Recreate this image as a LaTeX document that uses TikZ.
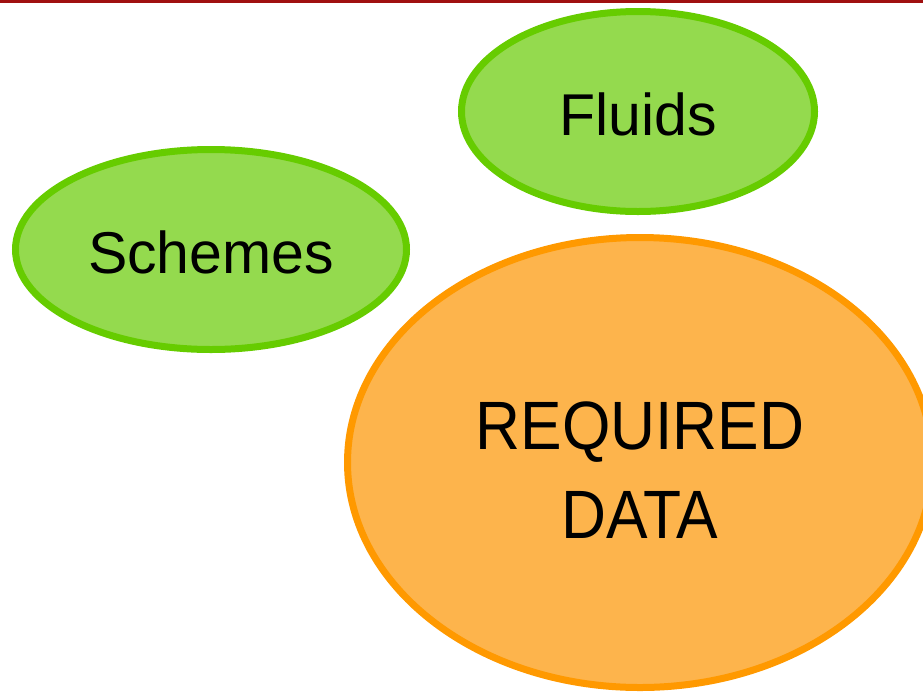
\documentclass[tikz,border=0pt]{standalone}
\usepackage{fontspec}
\setmainfont{Liberation Sans}
\newfontfamily\narrowsf[FakeStretch=0.91]{Liberation Sans}
\usetikzlibrary{shapes.geometric}
\definecolor{leafgreen}{RGB}{148,218,78}
\definecolor{leafedge}{RGB}{102,204,0}
\definecolor{datafill}{RGB}{253,180,76}
\definecolor{dataedge}{RGB}{255,153,0}
\definecolor{topbar}{RGB}{160,16,16}

\begin{document}
\begin{tikzpicture}
      [x=1pt, y=-1pt,
      greenoval/.style={ellipse, draw=leafedge, fill=leafgreen, line width=7pt,
        inner sep=0pt, text height=48pt, text depth=0pt,
        font=\fontsize{59}{65}\selectfont},
      orangeoval/.style={ellipse, draw=dataedge, fill=datafill, line width=7pt,
        inner sep=0pt, align=center, text height=151pt, text depth=0pt,
        font=\narrowsf\fontsize{68.4}{89}\selectfont}]
      \useasboundingbox (0,0) rectangle (923,697);
      \fill[topbar] (0,0) rectangle (923,3);
      \node[greenoval, minimum width=353pt, minimum height=200pt] (fluids) at (638,111.5) {Fluids};
      \node[greenoval, minimum width=391pt, minimum height=200pt] (schemes) at (211,249.5) {Schemes};
      \node[orangeoval, minimum width=585pt, minimum height=450pt] (data) at (640,462.5) {REQUIRED\\DATA};
    \end{tikzpicture}
\end{document}
